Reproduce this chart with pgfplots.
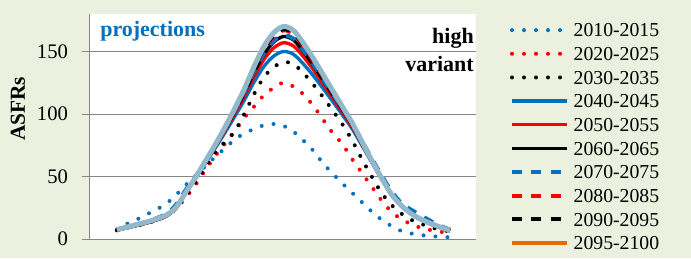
\documentclass[border=0pt]{standalone}
\usepackage{fontspec}
\setmainfont{Liberation Serif}
\usepackage{pgfplots}
\usepackage{pgfplotstable}
\pgfplotsset{compat=1.18}
\definecolor{bg}{HTML}{EBF1DE}
\definecolor{xlblue}{HTML}{0070C0}
\definecolor{xlred}{HTML}{FF0000}
\definecolor{xlorange}{HTML}{E46C0A}
\definecolor{xlgrey}{HTML}{93B7CB}
\definecolor{gridgrey}{HTML}{868686}

\pgfplotstableread{
age g bd rd kd bs rs ks bda rda kda or
15 7.5 7.5 7 7 7 7 7 7.5 7.5 7.5 7.5
16 9.5 12 9 9 9 9 9 9.5 9.5 9.5 9.5
17 11.5 15.5 11 10.5 10.8 10.8 10.8 11.5 11.5 11.5 11.5
18 13.5 19.5 13 12.5 12.8 12.8 12.8 13.5 13.5 13.5 13.5
19 16 23.5 15.5 15 15.2 15.2 15.2 16.5 16 16 16
20 19 28 19 19 18.2 18.2 18.2 20 19 19 19
21 25 35 24 24.5 24.3 24.5 24.6 27 25 25 25
22 37 43 33 34 36.7 36.8 36.9 39 37 37 37
23 49 50.5 43 45 48.3 48.5 48.7 49.5 48.9 48.9 49
24 62 58 55 57 60.4 61.0 61.4 61.5 61.8 61.8 62
25 75 65.5 66 69 72.3 73.3 73.9 74.1 74.6 74.7 74.9
26 89 72.5 76 77.5 84.8 86.2 87.3 87.5 88.4 88.6 88.9
27 104 79.5 86 86 97.7 99.9 101.5 101.8 103.1 103.4 103.8
28 120 84.5 97 100 111.1 114.2 116.4 116.9 118.7 119.1 119.8
29 138 88 106 116 125.6 130.0 133.0 133.7 136.1 136.8 137.7
30 154 91 115 129.5 138.0 143.6 147.6 148.4 151.6 152.4 153.6
31 165 92 121 137.5 146.3 152.9 157.5 158.5 162.2 163.1 164.5
32 170 90.5 125 141.5 150 157 162 163 167 168 169.5
33 167 86 122 140 147.8 154.5 159.3 160.3 164.1 165.1 166.5
34 157 79 116 133 140.3 146.2 150.3 151.2 154.5 155.3 156.6
35 145 71 107 124 131.1 136.0 139.4 140.1 142.9 143.6 144.7
36 132 61 96 114 120.9 124.8 127.5 128.1 130.3 130.9 131.7
37 119 52.5 85 103 110.3 113.3 115.5 116.0 117.7 118.1 118.8
38 106 44.5 76 92 99.4 101.7 103.4 104.5 105.0 105.3 105.8
39 93 37 64 79 88.3 89.9 91.1 92.5 92.3 92.5 92.9
40 78 29.5 53 64 75.0 76.1 76.8 78.5 77.6 77.7 77.9
41 63 22 42 50 61.4 61.9 62.3 64.5 62.8 62.8 63
42 49 15.5 31 37 48.3 48.5 48.7 51 48.9 48.9 49
43 36 10.5 22 27.5 35.8 35.9 35.9 38.5 36 36 36
44 27 6.5 16 20.5 27 27 27 29 27 27 27
45 20.5 4.5 12 15.5 20.2 20.2 20.2 23.5 20.5 20.5 20.5
46 16 3.2 9 12.3 15.6 15.6 15.6 19 16 16 16
47 12.5 2.3 7.2 9.5 12.1 12.1 12.1 14.5 12.5 12.5 12.5
48 9.5 1.8 5.8 7.5 9.1 9.1 9.1 10.5 9.5 9.5 9.5
49 7 1.3 4.5 6 6.6 6.6 6.6 7.5 7 7 7
}\asfr

\tikzset{
  dotl/.style={line width=3pt, line cap=round, dash pattern=on 0pt off 9pt},
  dashl/.style={line width=3pt, dash pattern=on 7.5pt off 7pt},
  solidl/.style={line width=2.5pt},
}

\begin{document}
\begin{tikzpicture}
\fill[bg] (0pt,0pt) rectangle (518.25pt,193.5pt);
\path[use as bounding box] (0pt,0pt) rectangle (518.25pt,193.5pt);
\begin{axis}[
  at={(67.5pt,14.25pt)}, anchor=south west,
  width=289.5pt, height=168.75pt, scale only axis,
  xmin=12.25, xmax=51.65, ymin=0, ymax=180,
  axis background/.style={fill=white},
  axis x line*=bottom, axis y line*=left,
  x axis line style={-}, y axis line style={-},
  axis line style={draw=gridgrey, line width=0.75pt},
  xtick=\empty, ytick={0,50,100,150},
  ymajorgrids, grid style={gridgrey, line width=0.75pt},
  tick align=outside, major tick length=6pt,
  ytick style={draw=gridgrey, line width=0.75pt},
  yticklabel style={font=\fontsize{15.5}{18}\selectfont, xshift=-7pt},
  /pgf/number format/assume math mode=true,
  ylabel={ASFRs},
  ylabel style={at={(axis description cs:-0.1865,0.578)}, anchor=center, font=\fontsize{16}{18}\selectfont\bfseries},
  legend style={at={(1.0881,0.958)}, anchor=north west, draw=none, fill=none,
    inner sep=0pt, outer sep=0pt, row sep=7.75pt,
    font=\fontsize{14.8}{16}\selectfont,
    nodes={inner sep=0pt, text height=10pt, text depth=0pt},
    /tikz/every odd column/.append style={column sep=3.75pt}},
  legend cell align=left,
  legend image code/.code={\draw[#1] (1pt,0pt) -- (42pt,0pt);},
]
\addplot[xlblue, dotl, smooth] table[x=age, y=bd] {\asfr};
\addlegendentry{2010-2015}
\addplot[xlred, dotl, smooth] table[x=age, y=rd] {\asfr};
\addlegendentry{2020-2025}
\addplot[black, dotl, smooth] table[x=age, y=kd] {\asfr};
\addlegendentry{2030-2035}
\addplot[xlblue, solidl, smooth] table[x=age, y=bs] {\asfr};
\addlegendentry{2040-2045}
\addplot[xlred, solidl, smooth] table[x=age, y=rs] {\asfr};
\addlegendentry{2050-2055}
\addplot[black, solidl, smooth] table[x=age, y=ks] {\asfr};
\addlegendentry{2060-2065}
\addplot[xlblue, dashl, smooth] table[x=age, y=bda] {\asfr};
\addlegendentry{2070-2075}
\addplot[xlred, dashl, smooth] table[x=age, y=rda] {\asfr};
\addlegendentry{2080-2085}
\addplot[black, dashl, smooth] table[x=age, y=kda] {\asfr};
\addlegendentry{2090-2095}
\addplot[xlorange, solidl, smooth] table[x=age, y=or] {\asfr};
\addlegendentry{2095-2100}
\addplot[xlgrey, line width=3.75pt, smooth, forget plot] table[x=age, y=g] {\asfr};
\end{axis}
\node[anchor=base west, inner sep=0pt, text=xlblue, font=\fontsize{16.5}{18}\selectfont\bfseries] at (75pt,166pt) {projections};
\node[anchor=base east, inner sep=0pt, font=\fontsize{16.5}{18}\selectfont\bfseries] at (355.5pt,161pt) {high};
\node[anchor=base east, inner sep=0pt, font=\fontsize{16.5}{18}\selectfont\bfseries] at (355.5pt,139.7pt) {variant};
\end{tikzpicture}
\end{document}
